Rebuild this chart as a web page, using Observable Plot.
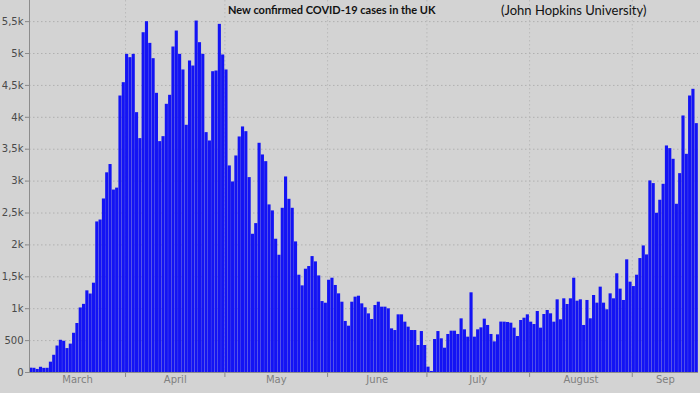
<!DOCTYPE html>
<html><head><meta charset="utf-8">
<script src="https://cdn.jsdelivr.net/npm/d3@7"></script>
<script src="https://cdn.jsdelivr.net/npm/@observablehq/plot@0.6"></script>
<style>
html,body{margin:0;padding:0;background:#d3d3d3;}
#wrap{position:relative;width:700px;height:393px;overflow:hidden;background:#d3d3d3;}
#title{position:absolute;left:228px;top:3px;font:bold 11px Lato, sans-serif;color:#111;white-space:nowrap;}
#source{position:absolute;left:501px;top:2px;font:13px Lato, sans-serif;color:#111;white-space:nowrap;}
</style></head>
<body>
<div id="wrap"><div id="chart"></div>
<div id="title">New confirmed COVID-19 cases in the UK</div>
<div id="source">(John Hopkins University)</div>
</div>
<script>
const firstDay = "2020-03-03";
const lastDayExclusive = "2020-09-21";
const cases = [
68,66,48,82,65,66,162,270,415,505,490,375,445,615,768,1012,1068,1280,1230,1400,
2360,2390,2720,3130,3260,2860,2890,4334,4543,4987,4935,4987,4073,3666,5326,5499,5159,4919,4376,3619,
3697,4204,4345,5102,5352,4987,4742,3875,4883,4804,5509,5170,4987,3760,3629,4715,4726,5457,4977,4742,
3238,2987,3394,3692,3849,3775,3055,2167,2334,3593,3410,3305,2627,2533,2089,1838,2574,3065,2715,2574,
2047,1525,1358,1619,1661,1817,1734,1514,1112,1086,1446,1478,1364,1233,1102,800,726,1102,1181,1196,
1076,1014,919,831,1050,1102,1024,1024,998,684,658,904,904,789,711,658,658,423,642,423,
84,16,517,642,528,381,596,648,648,596,841,669,554,1249,554,669,700,836,737,596,
480,590,790,789,784,773,695,564,815,851,904,789,752,956,695,909,972,920,789,1139,
826,1155,1066,1155,1478,1118,1139,737,1129,842,1207,1087,1338,1087,983,1233,1155,1547,1307,1129,
1766,1416,1347,1525,1786,1984,1843,3003,2961,2496,2700,2950,3551,3509,3342,2637,3117,4021,3420,4334,
4439,3901
];
const monthStarts = ["2020-04-01","2020-05-01","2020-06-01","2020-07-01","2020-08-01","2020-09-01"];
const monthNames = ["March","April","May","June","July","August","Sep"];
const yTicks = [0,500,1000,1500,2000,2500,3000,3500,4000,4500,5000,5500];

const DAY = 864e5;
const t0 = new Date(firstDay + "T00:00:00Z");
const t1 = new Date(lastDayExclusive + "T00:00:00Z");
const bars = cases.map((v, i) => ({d0: new Date(+t0 + i * DAY), d1: new Date(+t0 + (i + 1) * DAY), v}));
const starts = monthStarts.map(s => new Date(s + "T00:00:00Z"));
const bounds = [t0, ...starts, t1];
const labels = monthNames.map((name, i) => ({name, mid: new Date((+bounds[i] + +bounds[i + 1]) / 2)}));

const fmt = d => d === 0 ? "0" : d < 1000 ? String(d) : String(d / 1000).replace(".", ",") + "k";

const chart = Plot.plot({
  width: 700, height: 393,
  marginLeft: 29, marginRight: 2, marginTop: 0, marginBottom: 21,
  style: {background: "#d3d3d3", fontFamily: "DejaVu Sans, sans-serif", fontSize: "10px"},
  x: {type: "utc", domain: [t0, t1]},
  y: {domain: [0, 5831]},
  marks: [
    Plot.ruleY(yTicks.filter(d => d > 0), {x1: t0, x2: t1, stroke: "#b0b0b0", strokeDasharray: "1.5,2.5", insetLeft: -4}),
    Plot.ruleX(starts, {stroke: "#bababa", strokeDasharray: "1.5,2.5"}),
    Plot.rectY(bars, {x1: "d0", x2: "d1", y: "v", fill: "#1414f4", insetRight: 0.18}),
    Plot.ruleY([0], {stroke: "#8c8c8c"}),
    Plot.ruleX([t0], {stroke: "#8c8c8c"}),
    Plot.axisY({ticks: yTicks, tickFormat: fmt, tickSize: 4, tickPadding: 2, stroke: "#8c8c8c", fill: "#4a4a4a", label: null}),
    Plot.axisX({ticks: starts, tickFormat: () => "", tickSize: 5, stroke: "#8c8c8c", label: null}),
    Plot.text(labels, {x: "mid", text: "name", frameAnchor: "bottom", dy: 10, fill: "#808080", fontSize: 10})
  ]
});
document.getElementById("chart").appendChild(chart);
</script>
</body></html>
